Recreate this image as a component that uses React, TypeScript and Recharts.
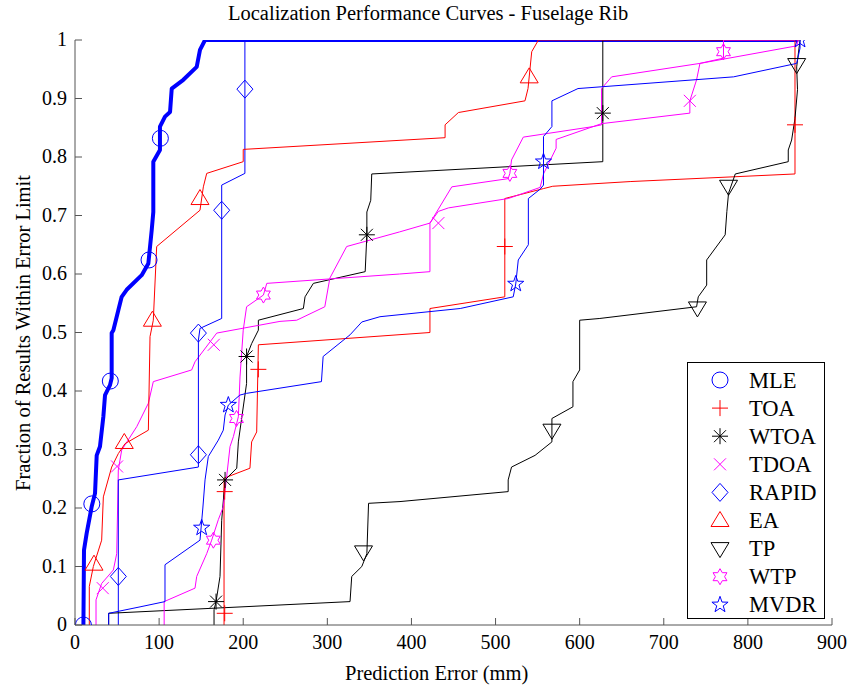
import React from 'react';
import { ComposedChart, Line, Scatter, XAxis, YAxis, Legend } from 'recharts';

const FONT = 'Liberation Serif, Tinos, Times New Roman, DejaVu Serif, serif';
const AXIS = '#555555';

// [error mm, fraction] pairs
const mleLine = [
  [10, 0], [10.7, 0.128], [13.9, 0.157], [19.8, 0.202], [23.8, 0.225], [25.8, 0.29], [29.7, 0.305],
  [33.7, 0.356], [35.7, 0.393], [41.6, 0.41], [43.6, 0.422], [43.6, 0.499], [45.6, 0.504], [51.5, 0.538],
  [55.5, 0.561], [61.4, 0.573], [79.3, 0.598], [87.2, 0.618], [91.2, 0.675], [93.1, 0.706], [93.1, 0.792],
  [101, 0.812], [101, 0.852], [107, 0.869], [113, 0.877], [115, 0.917], [128.8, 0.932], [144.7, 0.954],
  [148.6, 0.983], [154.6, 1], [860, 1],
];
const mleMarks = [[10, 0], [20, 0.207], [42, 0.417], [88, 0.624], [101.5, 0.832]];

const toaLine = [
  [177.2, 0], [177.2, 0.251], [208, 0.268], [210, 0.313], [216, 0.33], [218, 0.479], [422, 0.5],
  [422, 0.541], [511, 0.561], [511, 0.729], [557, 0.746], [568, 0.75], [660, 0.758], [856, 0.771],
  [856, 1], [860, 1],
];
const toaMarks = [[178, 0.02], [178, 0.228], [218, 0.437], [511, 0.647], [856, 0.855]];

const wtoaLine = [
  [165.3, 0], [165.3, 0.026], [167.7, 0.04], [172.4, 0.083], [174.4, 0.179], [178.4, 0.248], [192.3, 0.268],
  [194.2, 0.313], [204, 0.413], [204, 0.459], [210, 0.481], [218, 0.504], [218, 0.521], [271.5, 0.541],
  [273.5, 0.561], [283.4, 0.584], [345, 0.604], [347, 0.667], [347, 0.706], [351.6, 0.726], [352.8, 0.771],
  [627.5, 0.792], [627.5, 1], [860, 1],
];
const wtoaMarks = [[167.7, 0.04], [178.4, 0.248], [204, 0.459], [347, 0.667], [627.5, 0.875]];

const tdoaLine = [
  [25, 0], [25, 0.043], [31.7, 0.071], [45.6, 0.094], [49.6, 0.122], [51.5, 0.265], [55.5, 0.299],
  [73.4, 0.339], [87.2, 0.379], [93.1, 0.416], [138.7, 0.436], [142.7, 0.45], [168.5, 0.499], [243.7, 0.519],
  [263.6, 0.521], [297, 0.544], [303, 0.593], [323, 0.647], [386, 0.672], [422, 0.687], [432, 0.707],
  [444, 0.713], [515, 0.729], [553, 0.748], [557, 0.771], [572, 0.815], [572, 0.83], [616, 0.852],
  [626, 0.857], [731, 0.875], [731, 0.896], [739, 0.932], [743, 0.96], [858, 0.99], [860, 1],
];
const tdoaMarks = [[33, 0.063], [50, 0.271], [165, 0.479], [432, 0.687], [731, 0.896]];

const rapidLine = [
  [51.5, 0], [51.5, 0.248], [146.7, 0.27], [146.7, 0.487], [148.6, 0.507], [174.4, 0.524], [174.4, 0.752],
  [202, 0.772], [202, 1], [860, 1],
];
const rapidMarks = [[51.5, 0.083], [146.7, 0.291], [146.7, 0.499], [174.4, 0.709], [202, 0.916]];

const eaLine = [
  [17, 0], [17, 0.066], [21.8, 0.1], [31.7, 0.145], [33.7, 0.219], [43.6, 0.27], [51.5, 0.293],
  [59.5, 0.31], [87.2, 0.333], [89.2, 0.493], [93.1, 0.521], [97.1, 0.647], [148.6, 0.709], [152.6, 0.749],
  [156.6, 0.772], [200, 0.792], [200, 0.813], [440, 0.833], [440, 0.855], [455.8, 0.876], [535, 0.896],
  [538.6, 0.917], [543, 0.98], [551, 1], [860, 1],
];
const eaMarks = [[22.6, 0.104], [58.6, 0.312], [92, 0.521], [148.6, 0.729], [540, 0.937]];

const tpLine = [
  [40, 0], [40, 0.02], [327, 0.04], [329, 0.083], [341, 0.1], [347, 0.122], [349, 0.208], [386.4, 0.211],
  [515, 0.228], [515, 0.248], [519, 0.27], [547, 0.29], [567, 0.313], [567, 0.353], [592, 0.373],
  [592, 0.416], [600, 0.436], [600, 0.521], [624, 0.524], [739, 0.544], [741, 0.561], [751, 0.581],
  [751, 0.624], [773, 0.667], [775, 0.707], [777, 0.738], [785, 0.771], [848, 0.792], [848, 0.812],
  [852, 0.829], [856, 0.866], [859, 0.915], [858, 0.954], [862, 1],
];
const tpMarks = [[343, 0.125], [567, 0.333], [740, 0.542], [777, 0.75], [858, 0.958]];

const wtpLine = [
  [106, 0], [106, 0.04], [142.7, 0.063], [144.7, 0.083], [156.6, 0.122], [162.5, 0.145], [170.4, 0.18],
  [176.3, 0.202], [184.3, 0.305], [188.3, 0.322], [194.2, 0.356], [196.2, 0.424], [200, 0.504], [204, 0.544],
  [224, 0.564], [228, 0.584], [386, 0.6], [422, 0.604], [422, 0.687], [448, 0.749], [515, 0.763],
  [517, 0.772], [519, 0.795], [533, 0.834], [616, 0.852], [626, 0.855], [626, 0.917], [638, 0.937],
  [743, 0.96], [771, 0.969], [771, 1], [860, 1],
];
const wtpMarks = [[164.5, 0.145], [192, 0.353], [224, 0.564], [517, 0.772], [771, 0.98]];

const mvdrLine = [
  [40, 0], [40, 0.02], [77.3, 0.031], [107, 0.04], [107, 0.103], [148.6, 0.145], [152, 0.2], [154.6, 0.248],
  [158.5, 0.288], [170.4, 0.316], [176.3, 0.333], [178.4, 0.359], [182.3, 0.376], [196, 0.393], [204, 0.396],
  [293, 0.416], [295, 0.459], [327, 0.496], [341, 0.518], [362.6, 0.527], [458, 0.541], [521, 0.561],
  [524, 0.583], [527, 0.624], [539, 0.65], [539, 0.729], [553, 0.745], [557, 0.752], [557, 0.835],
  [567, 0.852], [567, 0.896], [598, 0.917], [783, 0.937], [858, 0.96], [862, 0.986], [862, 1],
];
const mvdrMarks = [[150.6, 0.166], [182.3, 0.376], [524, 0.583], [557, 0.792], [862, 1]];

const xTicks = [0, 100, 200, 300, 400, 500, 600, 700, 800, 900];
const yTicks = [0, 0.1, 0.2, 0.3, 0.4, 0.5, 0.6, 0.7, 0.8, 0.9, 1];

type Kind = 'circle' | 'plus' | 'asterisk' | 'x' | 'diamond' | 'triUp' | 'triDown' | 'hexagram' | 'pentagram';

const SERIES: { name: string; color: string; width: number; kind: Kind; line: number[][]; marks: number[][] }[] = [
  { name: 'MLE', color: '#0000ff', width: 4, kind: 'circle', line: mleLine, marks: mleMarks },
  { name: 'TOA', color: '#ff0000', width: 1, kind: 'plus', line: toaLine, marks: toaMarks },
  { name: 'WTOA', color: '#000000', width: 1, kind: 'asterisk', line: wtoaLine, marks: wtoaMarks },
  { name: 'TDOA', color: '#ff00ff', width: 1, kind: 'x', line: tdoaLine, marks: tdoaMarks },
  { name: 'RAPID', color: '#0000ff', width: 1, kind: 'diamond', line: rapidLine, marks: rapidMarks },
  { name: 'EA', color: '#ff0000', width: 1, kind: 'triUp', line: eaLine, marks: eaMarks },
  { name: 'TP', color: '#000000', width: 1, kind: 'triDown', line: tpLine, marks: tpMarks },
  { name: 'WTP', color: '#ff00ff', width: 1, kind: 'hexagram', line: wtpLine, marks: wtpMarks },
  { name: 'MVDR', color: '#0000ff', width: 1, kind: 'pentagram', line: mvdrLine, marks: mvdrMarks },
];

const toPts = (arr: number[][]) => arr.map(([x, y]) => ({ x, y }));

function starPoints(cx: number, cy: number, n: number, ro: number, ri: number) {
  const pts: string[] = [];
  for (let i = 0; i < n * 2; i++) {
    const r = i % 2 === 0 ? ro : ri;
    const a = -Math.PI / 2 + (i * Math.PI) / n;
    pts.push(`${cx + r * Math.cos(a)},${cy + r * Math.sin(a)}`);
  }
  return pts.join(' ');
}

function Marker({ kind, cx, cy, color }: { kind: Kind; cx: number; cy: number; color: string }) {
  const s = { fill: 'none', stroke: color, strokeWidth: 1 };
  switch (kind) {
    case 'circle':
      return <circle cx={cx} cy={cy} r={8} {...s} />;
    case 'plus':
      return <path d={`M${cx - 8},${cy}H${cx + 8}M${cx},${cy - 8}V${cy + 8}`} {...s} />;
    case 'x':
      return <path d={`M${cx - 6},${cy - 6}L${cx + 6},${cy + 6}M${cx - 6},${cy + 6}L${cx + 6},${cy - 6}`} {...s} />;
    case 'asterisk':
      return (
        <path
          d={`M${cx - 8},${cy}H${cx + 8}M${cx},${cy - 8}V${cy + 8}M${cx - 6},${cy - 6}L${cx + 6},${cy + 6}M${cx - 6},${cy + 6}L${cx + 6},${cy - 6}`}
          {...s}
        />
      );
    case 'diamond':
      return <polygon points={`${cx},${cy - 9} ${cx + 8},${cy} ${cx},${cy + 9} ${cx - 8},${cy}`} {...s} />;
    case 'triUp':
      return <polygon points={`${cx},${cy - 9} ${cx + 9},${cy + 6} ${cx - 9},${cy + 6}`} {...s} />;
    case 'triDown':
      return <polygon points={`${cx},${cy + 9} ${cx + 9},${cy - 6} ${cx - 9},${cy - 6}`} {...s} />;
    case 'hexagram':
      return <polygon points={starPoints(cx, cy, 6, 8, 4.6)} {...s} />;
    case 'pentagram':
      return <polygon points={starPoints(cx, cy, 5, 8.5, 3.4)} {...s} />;
  }
  return null;
}

const fmtY = (v: number) => (v === 0 ? '0' : v === 1 ? '1' : v.toFixed(1));

const BottomTick = ({ x, y, payload }: any) => (
  <g>
    <line x1={x} x2={x} y1={y} y2={y - 7} stroke={AXIS} />
    <text x={x} y={y + 24} textAnchor="middle" fontSize={20} fontFamily={FONT} fill="#000">
      {payload.value}
    </text>
  </g>
);
const TopTick = ({ x, y }: any) => <line x1={x} x2={x} y1={y} y2={y + 7} stroke={AXIS} />;
const LeftTick = ({ x, y, payload }: any) => (
  <g>
    <line x1={x} x2={x + 7} y1={y} y2={y} stroke={AXIS} />
    <text x={x - 8} y={y + 6} textAnchor="end" fontSize={20} fontFamily={FONT} fill="#000">
      {fmtY(payload.value)}
    </text>
  </g>
);
const RightTick = ({ x, y }: any) => <line x1={x} x2={x - 7} y1={y} y2={y} stroke={AXIS} />;

function LegendBox() {
  return (
    <svg width={138} height={257} style={{ display: 'block' }}>
      <rect x={0.5} y={0.5} width={137} height={256} fill="#fff" stroke="#000" />
      {SERIES.map((s, i) => (
        <g key={s.name}>
          <Marker kind={s.kind} cx={33} cy={18 + i * 28.1} color={s.color} />
          <text x={62} y={18 + i * 28.1 + 7.5} fontSize={22.5} fontFamily={FONT} fill="#000">
            {s.name}
          </text>
        </g>
      ))}
    </svg>
  );
}

export default function App() {
  return (
    <div style={{ position: 'absolute', left: 0, top: 0, width: 852, height: 686, background: '#fff' }}>
      <ComposedChart width={852} height={686} margin={{ top: 40, right: 20, left: 0, bottom: 0 }}>
        <XAxis
          dataKey="x"
          type="number"
          domain={[0, 900]}
          ticks={xTicks}
          interval={0}
          allowDataOverflow
          height={61}
          tickSize={0}
          tickMargin={0}
          tick={<BottomTick />}
          axisLine={{ stroke: AXIS }}
        />
        <XAxis
          xAxisId="top"
          orientation="top"
          dataKey="x"
          type="number"
          domain={[0, 900]}
          ticks={xTicks}
          interval={0}
          height={0}
          tickSize={0}
          tickMargin={0}
          tick={<TopTick />}
          axisLine={{ stroke: AXIS }}
        />
        <YAxis
          type="number"
          domain={[0, 1]}
          ticks={yTicks}
          interval={0}
          allowDataOverflow
          width={75}
          tickSize={0}
          tickMargin={0}
          tick={<LeftTick />}
          axisLine={{ stroke: AXIS }}
        />
        <YAxis
          yAxisId="right"
          orientation="right"
          type="number"
          domain={[0, 1]}
          ticks={yTicks}
          interval={0}
          width={0}
          tickSize={0}
          tickMargin={0}
          tick={<RightTick />}
          axisLine={{ stroke: AXIS }}
        />
        {SERIES.map((s) => (
          <Line
            key={`l-${s.name}`}
            data={toPts(s.line)}
            dataKey="y"
            type="linear"
            stroke={s.color}
            strokeWidth={s.width}
            strokeLinejoin="round"
            dot={false}
            activeDot={false}
            isAnimationActive={false}
          />
        ))}
        {SERIES.map((s) => (
          <Scatter
            key={`m-${s.name}`}
            data={toPts(s.marks)}
            dataKey="y"
            isAnimationActive={false}
            shape={(p: any) => <Marker kind={s.kind} cx={p.cx} cy={p.cy} color={s.color} />}
          />
        ))}
        <Legend
          layout="vertical"
          align="center"
          verticalAlign="middle"
          content={() => <LegendBox />}
          wrapperStyle={{ position: 'absolute', left: 687, top: 362, width: 138, height: 257, margin: 0, padding: 0 }}
        />
      </ComposedChart>
      <div
        style={{
          position: 'absolute', left: 228, top: 2, fontFamily: FONT, fontSize: 20.5, whiteSpace: 'nowrap',
        }}
      >
        Localization Performance Curves - Fuselage Rib
      </div>
      <div
        style={{
          position: 'absolute', left: 345, top: 662, fontFamily: FONT, fontSize: 20.5, whiteSpace: 'nowrap',
        }}
      >
        Prediction Error (mm)
      </div>
      <div
        style={{
          position: 'absolute', left: 23, top: 333, transform: 'translate(-50%, -50%) rotate(-90deg)',
          fontFamily: FONT, fontSize: 20.5, whiteSpace: 'nowrap',
        }}
      >
        Fraction of Results Within Error Limit
      </div>
    </div>
  );
}
